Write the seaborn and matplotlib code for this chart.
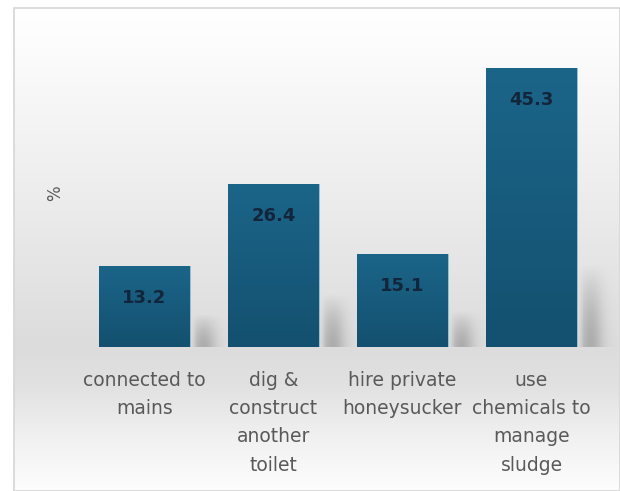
import numpy as np
import matplotlib
matplotlib.use("Agg")
import matplotlib.pyplot as plt
from matplotlib.patches import Rectangle
from matplotlib.colors import to_rgb
import seaborn as sns

# Survey responses: what households do when the pit toilet fills up
categories = [
    "connected to\nmains",
    "dig &\nconstruct\nanother\ntoilet",
    "hire private\nhoneysucker",
    "use\nchemicals to\nmanage\nsludge",
]
percentages = [13.2, 26.4, 15.1, 45.3]
value_labels = ["13.2", "26.4", "15.1", "45.3"]
y_label = "%"

sns.set_theme(style="white")
plt.rcParams["font.family"] = ["DejaVu Sans"]

W, H = 620, 491
fig = plt.figure(figsize=(W / 100, H / 100), dpi=100)
fig.patch.set_facecolor("white")

# Chart-area background: soft vertical grey gradient inside a thin frame
bg = fig.add_axes([14 / W, 0, 1 - 14 / W, 1 - 8 / H], zorder=-5)
stops_y = np.array([0.0, 0.08, 0.40, 0.70, 0.78, 0.90, 1.0])
stops_c = np.array([255, 252, 236, 220, 225, 242, 253]) / 255.0
yy = np.linspace(0, 1, 400)
shade = np.interp(yy, stops_y, stops_c)
grad = np.repeat(shade[:, None], 2, axis=1)
bg.imshow(np.dstack([grad, grad, grad]), aspect="auto", extent=[0, 1, 1, 0],
          interpolation="bilinear")
bg.set_xlim(0, 1)
bg.set_ylim(1, 0)
bg.axis("off")
fig.patches.append(Rectangle((14 / W, 0), 1 - 14 / W, 1 - 8 / H,
                             transform=fig.transFigure, fill=False,
                             edgecolor="#d6d6d6", linewidth=1.2, zorder=10))

ax = fig.add_axes([80 / W, 1 - 347 / H, 516 / W, 308 / H])
ax.patch.set_alpha(0)

bar_color = "#175a7c"
sns.barplot(x=categories, y=percentages, ax=ax, color=bar_color,
            width=0.7, saturation=1, edgecolor="#9cc4da", linewidth=0.6)

# Vertical shading inside each bar and a soft cast shadow on its right
top_rgb = np.array(to_rgb("#1b6589"))
bot_rgb = np.array(to_rgb("#14506f"))
t = np.linspace(0, 1, 100)[:, None]
bar_grad = (top_rgb * (1 - t) + bot_rgb * t)[:, None, :].repeat(2, axis=1)

su = np.linspace(0, 1, 80)[None, :]
sv = np.linspace(0, 1, 80)[:, None]
shadow_alpha = (0.42 * np.exp(-((su - 0.35) / 0.32) ** 2)
                * np.clip(1 - sv ** 1.6, 0, 1) * np.clip(su * 6, 0, 1))
shadow = np.zeros((80, 80, 4))
shadow[..., :3] = 0.42
shadow[..., 3] = shadow_alpha[::-1, :]

for patch in ax.patches:
    x0, w, h = patch.get_x(), patch.get_width(), patch.get_height()
    im = ax.imshow(bar_grad, extent=[x0, x0 + w, 0, h], aspect="auto",
                   origin="upper", zorder=patch.get_zorder() + 0.1,
                   interpolation="bilinear")
    im.set_clip_path(patch)
    sh_h = 0.25 * h + 2.0
    ax.imshow(shadow, extent=[x0 + w, x0 + w + 0.3, 0, sh_h], aspect="auto",
              origin="upper", zorder=patch.get_zorder() - 0.5,
              interpolation="bilinear", clip_on=False)
ax.set_xlim(-0.5, 3.5)
ax.set_ylim(0, 50)

# Value labels just inside the top of each bar
for i, (v, lab) in enumerate(zip(percentages, value_labels)):
    ax.annotate(lab, xy=(i, v), xytext=(0, -23), textcoords="offset points",
                ha="center", va="center", fontsize=13, fontweight="bold",
                color="#13253a", zorder=5)

for s in ax.spines.values():
    s.set_visible(False)
ax.set_yticks([])
ax.tick_params(axis="x", length=0, pad=17, labelsize=13.5, colors="#595959")
for lbl in ax.get_xticklabels():
    lbl.set_linespacing(1.62)
ax.set_xlabel("")
ax.set_ylabel(y_label, fontsize=12, color="#595959", rotation=90)
ax.yaxis.set_label_coords(-0.031, 0.5)

fig.savefig("out.png", dpi=100)
